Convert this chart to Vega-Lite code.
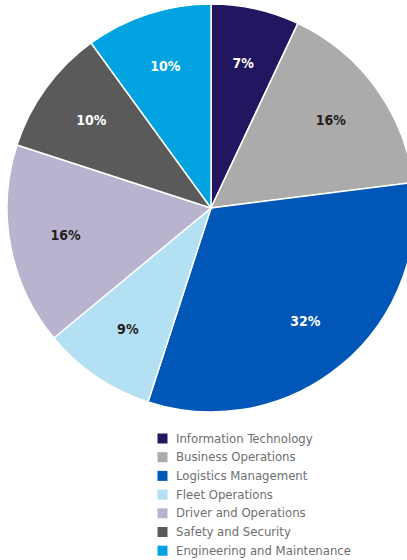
{
  "$schema": "https://vega.github.io/schema/vega-lite/v6.json",
  "width": 422,
  "height": 416,
  "padding": 0,
  "background": "white",
  "view": {"stroke": null},
  "data": {"values": [
    {"idx": 1, "category": "Information Technology", "pct": 7, "label": "7%", "labelColor": "white"},
    {"idx": 2, "category": "Business Operations", "pct": 16, "label": "16%", "labelColor": "dark"},
    {"idx": 3, "category": "Logistics Management", "pct": 32, "label": "32%", "labelColor": "white"},
    {"idx": 4, "category": "Fleet Operations", "pct": 9, "label": "9%", "labelColor": "dark"},
    {"idx": 5, "category": "Driver and Operations", "pct": 16, "label": "16%", "labelColor": "dark"},
    {"idx": 6, "category": "Safety and Security", "pct": 10, "label": "10%", "labelColor": "white"},
    {"idx": 7, "category": "Engineering and Maintenance", "pct": 10, "label": "10%", "labelColor": "white"}
  ]},
  "encoding": {
    "theta": {"field": "pct", "type": "quantitative", "stack": true},
    "order": {"field": "idx", "type": "quantitative"}
  },
  "layer": [
    {
      "mark": {"type": "arc", "outerRadius": 204, "stroke": "white", "strokeWidth": 1.5},
      "encoding": {
        "color": {
          "field": "category", "type": "nominal",
          "scale": {
            "domain": ["Information Technology", "Business Operations", "Logistics Management", "Fleet Operations", "Driver and Operations", "Safety and Security", "Engineering and Maintenance"],
            "range": ["#231660", "#ababab", "#0057b8", "#b3e0f2", "#b9b3cf", "#5a5a5a", "#00a3e0"]
          },
          "legend": {
            "title": null,
            "orient": "none",
            "legendX": 156,
            "legendY": 432,
            "symbolType": "square",
            "symbolSize": 100,
            "symbolStrokeWidth": 0,
            "labelFont": "DejaVu Sans Condensed, sans-serif",
            "labelFontSize": 13,
            "labelColor": "#6d6e70",
            "labelOffset": 7,
            "rowPadding": 4.7,
            "labelLimit": 300
          }
        }
      }
    },
    {
      "mark": {"type": "text", "radius": 148, "font": "DejaVu Sans Condensed, sans-serif", "fontWeight": "bold", "fontSize": 14},
      "encoding": {
        "text": {"field": "label"},
        "color": {
          "field": "labelColor", "type": "nominal",
          "scale": {"domain": ["white", "dark"], "range": ["#ffffff", "#231f20"]},
          "legend": null
        }
      }
    }
  ],
  "resolve": {"scale": {"color": "independent"}}
}
